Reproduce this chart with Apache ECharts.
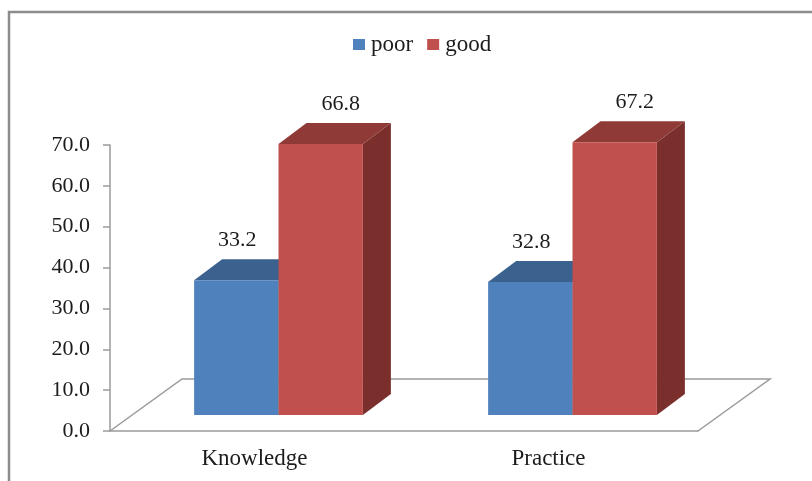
<!DOCTYPE html>
<html>
<head>
<meta charset="utf-8">
<style>
  html, body { margin: 0; padding: 0; background: #fff; }
  #chart { width: 812px; height: 481px; }
</style>
<script src="https://cdn.jsdelivr.net/npm/echarts@6/dist/echarts.min.js"></script>
</head>
<body>
<div id="chart"></div>
<script>
const categories = ['Knowledge', 'Practice'];
const poorValues = [33.2, 32.8];
const goodValues = [66.8, 67.2];
const yTicks = [0, 10, 20, 30, 40, 50, 60, 70];

const FONT = '"Liberation Serif", "Times New Roman", serif';
const TEXT = '#1c1c1c';
const AXIS = '#9a9a9a';
const DEPTH_X = 28;
const DEPTH_Y = 21;

// A box with front, top and side faces, placed on the raised floor plane.
function barSeries(name, values, side, front, top, flank, labelShift) {
  return {
    name: name,
    type: 'custom',
    coordinateSystem: 'cartesian2d',
    xAxisIndex: 1,
    yAxisIndex: 1,
    z: side < 0 ? 3 : 4,
    itemStyle: { color: front },
    data: values.map((v, i) => [i, v]),
    renderItem: function (params, api) {
      const base = api.coord([api.value(0), 0]);
      const peak = api.coord([api.value(0), api.value(1)]);
      const w = api.size([1, 0])[0] * 0.287;
      const x0 = side < 0 ? base[0] - w : base[0];
      const x1 = x0 + w;
      const yb = base[1];
      const yt = peak[1];
      return {
        type: 'group',
        children: [
          { type: 'polygon', shape: { points: [[x1, yb], [x1 + DEPTH_X, yb - DEPTH_Y], [x1 + DEPTH_X, yt - DEPTH_Y], [x1, yt]] }, style: { fill: flank } },
          { type: 'polygon', shape: { points: [[x0, yt], [x0 + DEPTH_X, yt - DEPTH_Y], [x1 + DEPTH_X, yt - DEPTH_Y], [x1, yt]] }, style: { fill: top } },
          { type: 'rect', shape: { x: x0, y: yt, width: w, height: yb - yt }, style: { fill: front } },
          { type: 'text', style: {
              text: api.value(1).toFixed(1),
              x: (x0 + x1) / 2 + labelShift,
              y: yt - 40,
              align: 'center',
              verticalAlign: 'middle',
              font: '22px ' + FONT,
              fill: TEXT
          } }
        ]
      };
    }
  };
}

// Outline of the floor: the sloped sides and the back edge behind the bars.
const floorSeries = {
  type: 'custom',
  coordinateSystem: 'cartesian2d',
  xAxisIndex: 0,
  yAxisIndex: 0,
  silent: true,
  z: 1,
  data: [[0, 0]],
  renderItem: function (params, api) {
    const cs = params.coordSys;
    const y0 = api.coord([0, 0])[1];
    const dx = 72;
    const dy = 52;
    return {
      type: 'polyline',
      shape: { points: [[cs.x, y0], [cs.x + dx, y0 - dy], [cs.x + cs.width + dx, y0 - dy], [cs.x + cs.width, y0]] },
      style: { fill: 'none', stroke: AXIS, lineWidth: 1.5 }
    };
  }
};

const chart = echarts.init(document.getElementById('chart'), null, { renderer: 'canvas' });
chart.setOption({
  animation: false,
  backgroundColor: '#fff',
  legend: {
    left: 348,
    top: 28,
    itemWidth: 12,
    itemHeight: 11,
    itemGap: 14,
    icon: 'rect',
    data: ['poor', 'good'],
    textStyle: { fontFamily: FONT, fontSize: 23, color: TEXT, padding: [6, 0, 0, 1] }
  },
  grid: [
    { left: 110, right: 114, top: 145, bottom: 50 },
    { left: 131.5, right: 92.5, top: 131, bottom: 66 }
  ],
  xAxis: [
    {
      type: 'category',
      gridIndex: 0,
      data: categories,
      axisLine: { lineStyle: { color: AXIS, width: 1.5 } },
      axisTick: { length: 6, lineStyle: { color: AXIS, width: 1.5 } },
      axisLabel: { fontFamily: FONT, fontSize: 23, color: TEXT, margin: 16, padding: [0, 5, 0, 0] }
    },
    { type: 'category', gridIndex: 1, data: categories, show: false }
  ],
  yAxis: [
    {
      type: 'value',
      gridIndex: 0,
      min: yTicks[0],
      max: yTicks[yTicks.length - 1],
      interval: 10,
      axisLine: { show: true, lineStyle: { color: AXIS, width: 1.5 } },
      axisTick: { show: true, length: 7, lineStyle: { color: AXIS, width: 1.5 } },
      splitLine: { show: false },
      axisLabel: {
        fontFamily: FONT, fontSize: 22, color: TEXT, margin: 20,
        formatter: v => v.toFixed(1)
      }
    },
    { type: 'value', gridIndex: 1, min: 0, max: 70, show: false, splitLine: { show: false } }
  ],
  graphic: [
    {
      type: 'polyline',
      silent: true,
      shape: { points: [[9, 481], [9, 12], [812, 12]] },
      style: { fill: 'none', stroke: '#8c8c8c', lineWidth: 2.5 }
    }
  ],
  series: [
    floorSeries,
    barSeries('poor', poorValues, -1, '#4F81BD', '#3B618F', '#34557E', 1),
    barSeries('good', goodValues, 1, '#C0504D', '#8F3A37', '#7A2F2D', 20)
  ]
});
</script>
</body>
</html>
